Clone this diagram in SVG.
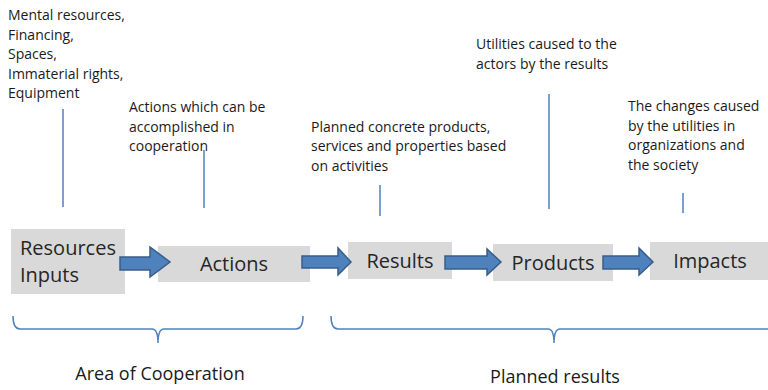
<svg xmlns="http://www.w3.org/2000/svg" width="768" height="390" viewBox="0 0 768 390">
<style>
.t{font-family:"Open Sans","Liberation Sans",sans-serif;font-size:14px;fill:#1a1a1a}
.b{font-family:"Open Sans","Liberation Sans",sans-serif;font-size:20px;fill:#262626}
.l{font-family:"Open Sans","Liberation Sans",sans-serif;font-size:18px;fill:#1a1a1a}
.box{fill:#d9d9d9}
.arr{fill:#4f81bd;stroke:#385d8a;stroke-width:1.5}
.ln{stroke:#4f81bd;stroke-width:1.5;fill:none}
</style>
<rect width="768" height="390" fill="#fff"/>
<g id="annotations">
<text class="t" x="8" y="20">Mental resources,</text>
<text class="t" x="8" y="40">Financing,</text>
<text class="t" x="8" y="59">Spaces,</text>
<text class="t" x="8" y="79">Immaterial rights,</text>
<text class="t" x="8" y="98">Equipment</text>
<text class="t" x="129" y="112">Actions which can be</text>
<text class="t" x="129" y="132">accomplished in</text>
<text class="t" x="129" y="151">cooperation</text>
<text class="t" x="311" y="132">Planned concrete products,</text>
<text class="t" x="311" y="151">services and properties based</text>
<text class="t" x="311" y="171">on activities</text>
<text class="t" x="476" y="49">Utilities caused to the</text>
<text class="t" x="476" y="69">actors by the results</text>
<text class="t" x="628" y="111">The changes caused</text>
<text class="t" x="628" y="131">by the utilities in</text>
<text class="t" x="628" y="150">organizations and</text>
<text class="t" x="628" y="170">the society</text>
</g>
<g id="resources"><rect class="box" x="11" y="229" width="114" height="65"/><text class="b" x="20" y="255">Resources</text><text class="b" x="20" y="282">Inputs</text></g>
<g id="actions"><rect class="box" x="158" y="246" width="152" height="36"/><text class="b" x="234" y="271" text-anchor="middle">Actions</text></g>
<g id="results"><rect class="box" x="348" y="242" width="104" height="37"/><text class="b" x="400" y="268" text-anchor="middle">Results</text></g>
<g id="products"><rect class="box" x="493" y="244" width="120" height="37"/><text class="b" x="553" y="270" text-anchor="middle">Products</text></g>
<g id="impacts"><rect class="box" x="650" y="242" width="118" height="38"/><text class="b" x="710" y="268" text-anchor="middle">Impacts</text></g>
<g id="connectors">
<polygon class="arr" points="120,257 150,257 150,247 170,262 150,277 150,270 120,270"/>
<polygon class="arr" points="302,256 338,256 338,248 351,262 338,275 338,268 302,268"/>
<polygon class="arr" points="445,256 487,256 487,249 501,262 487,275 487,269 445,269"/>
<polygon class="arr" points="603,256 639,256 639,248 653,262 639,275 639,269 603,269"/>
<line class="ln" x1="63" y1="109" x2="63" y2="207"/>
<line class="ln" x1="204" y1="150" x2="204" y2="208"/>
<line class="ln" x1="380" y1="185" x2="380" y2="216"/>
<line class="ln" x1="549" y1="94" x2="549" y2="209"/>
<line class="ln" x1="683" y1="193" x2="683" y2="213"/>
<path class="ln" d="M13,316 Q13,329 20,329 L152,329 Q158,329 158,343 Q158,329 164,329 L296,329 Q303,329 303,316"/>
<path class="ln" d="M331,316 Q331,329 338,329 L548,329 Q554,329 554,343 Q554,329 560,329 L768,329"/>
</g>
<g id="labels">
<text class="l" x="160" y="380" text-anchor="middle">Area of Cooperation</text>
<text class="l" x="555" y="383" text-anchor="middle">Planned results</text>
</g>
</svg>
